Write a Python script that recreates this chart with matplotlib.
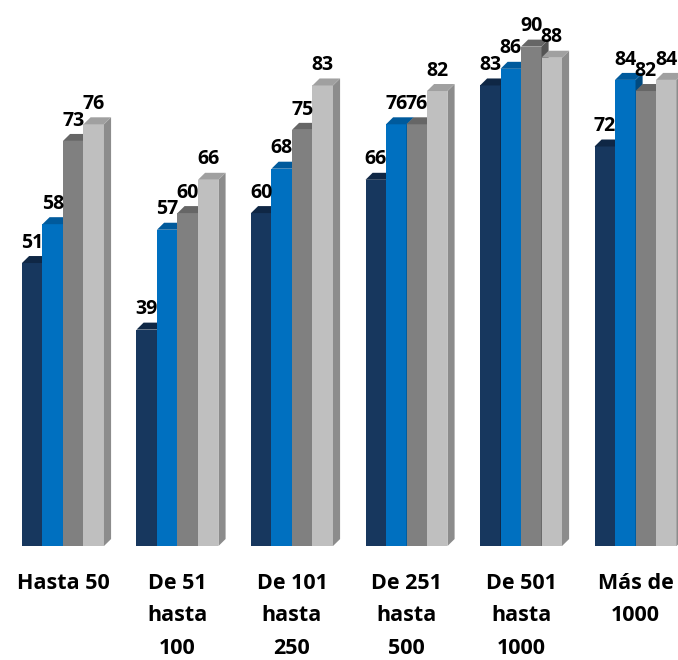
import numpy as np
import matplotlib.pyplot as plt
from matplotlib.patches import Polygon

categories = ['Hasta 50', 'De 51\nhasta\n100', 'De 101\nhasta\n250',
              'De 251\nhasta\n500', 'De 501\nhasta\n1000', 'Más de\n1000']
series = [
    [51, 39, 60, 66, 83, 72],
    [58, 57, 68, 76, 86, 84],
    [73, 60, 75, 76, 90, 82],
    [76, 66, 83, 82, 88, 84],
]

front = ['#17375E', '#0070C0', '#808080', '#BFBFBF']
top = ['#0F2745', '#005A9C', '#666666', '#A0A0A0']
side = ['#0B1D36', '#004A80', '#555555', '#8C8C8C']

plt.rcParams['font.family'] = ['Open Sans', 'DejaVu Sans']

fig = plt.figure(figsize=(6.78, 6.6), dpi=100)
ax = fig.add_axes([0, 0, 1, 1])
ax.set_xlim(-0.550, 5.371)
ax.set_ylim(-20.54, 98.4)
ax.axis('off')

w = 0.179        # bar width in group units
dx = 0.062       # depth offset, x
dy = 1.26        # depth offset, y

for g in range(len(categories)):
    for s in range(len(series)):
        v = series[s][g]
        x0 = g + (s - 2) * w
        x1 = x0 + w
        ax.add_patch(Polygon([(x0, 0), (x1, 0), (x1, v), (x0, v)],
                             closed=True, fc=front[s], ec='none', zorder=3))
        ax.add_patch(Polygon([(x1, 0), (x1 + dx, dy), (x1 + dx, v + dy), (x1, v)],
                             closed=True, fc=side[s], ec='none', zorder=3))
        ax.add_patch(Polygon([(x0, v), (x1, v), (x1 + dx, v + dy), (x0 + dx, v + dy)],
                             closed=True, fc=top[s], ec='none', zorder=3))
        ax.text(x0 + w / 2, v + dy + 0.6, str(v), ha='center', va='bottom',
                fontsize=14, fontweight='bold', color='black', zorder=5)
    ax.text(g, -4.9, categories[g], ha='center', va='top', fontsize=15.5,
            fontweight='bold', color='black', linespacing=1.7)

fig.savefig('out.png', dpi=100)
